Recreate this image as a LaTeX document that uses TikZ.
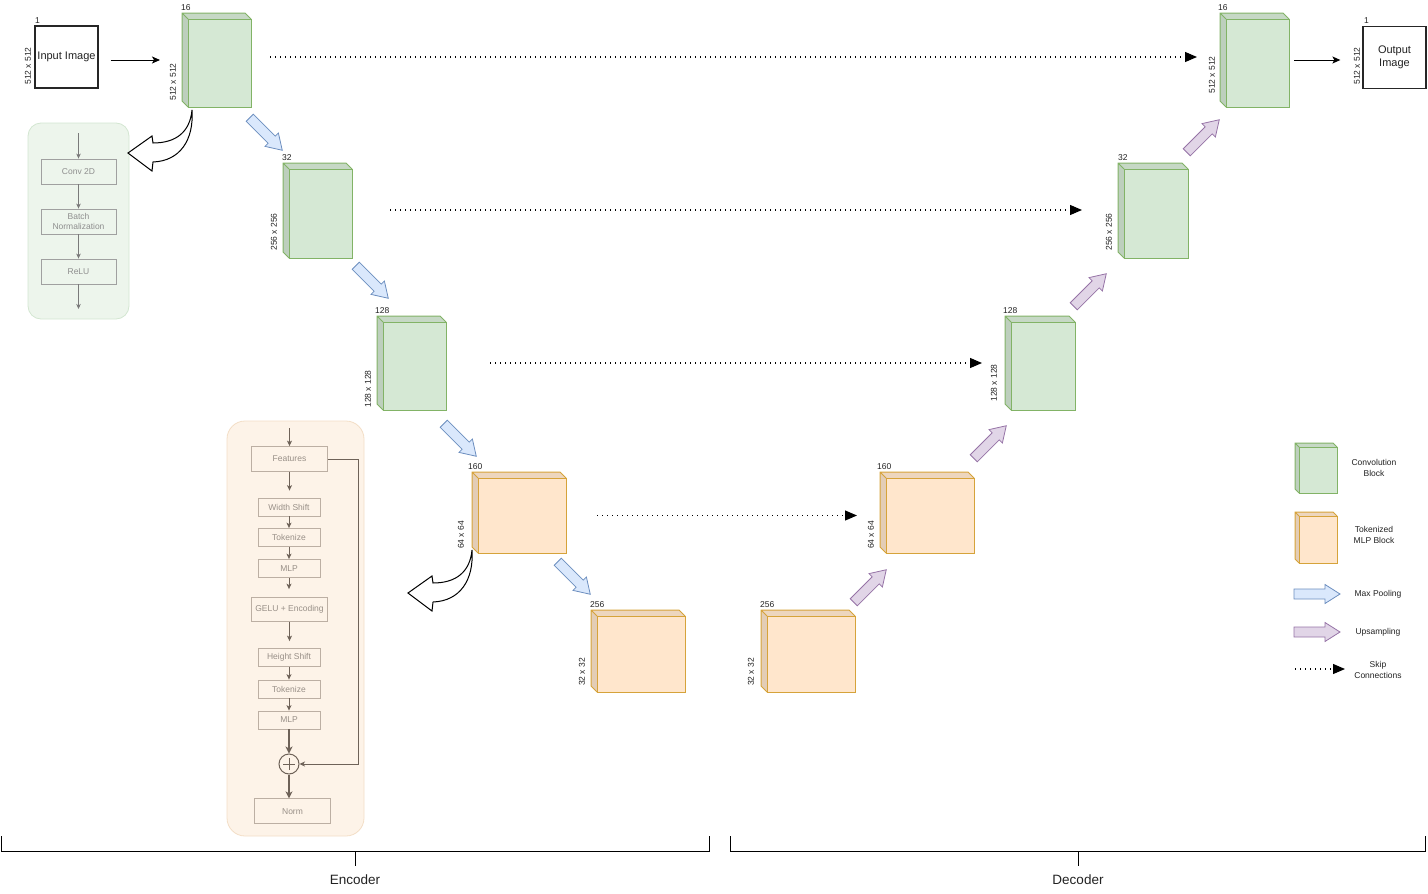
\documentclass[tikz,border=0pt]{standalone}
\usepackage{fontspec}
\setmainfont{Liberation Sans}
\usetikzlibrary{arrows.meta,calc}
\definecolor{gfill}{HTML}{D5E8D4}
\definecolor{gline}{HTML}{82B366}
\definecolor{ofill}{HTML}{FFE6CC}
\definecolor{oline}{HTML}{D6A33A}
\definecolor{bfill}{HTML}{DAE8FC}
\definecolor{bline}{HTML}{6C8EBF}
\definecolor{pfill}{HTML}{E1D5E7}
\definecolor{pline}{HTML}{9673A6}
\definecolor{gpanel}{HTML}{EDF5EC}
\definecolor{gpanelline}{HTML}{D3E6D1}
\definecolor{opanel}{HTML}{FDF3E8}
\definecolor{opanelline}{HTML}{F3DEC6}
\definecolor{inbox}{HTML}{A0A0A0}
\definecolor{intext}{HTML}{8E8E8E}
\definecolor{inarrow}{HTML}{7A7A7A}
\definecolor{mbox}{HTML}{BCAFA3}
\definecolor{mtext}{HTML}{988F87}
\definecolor{marrow}{HTML}{6E6258}
\definecolor{txt}{HTML}{222222}

\newcommand{\cubeblk}[8]{% name,x1,y1,x2,y2,fill,line,d
  \fill[#6!93!black] (#2,#3) -- ({#4-#8},#3) -- (#4,{#3+#8}) -- ({#2+#8},{#3+#8}) -- cycle;
  \fill[#6!89!black] (#2,#3) -- ({#2+#8},{#3+#8}) -- ({#2+#8},#5) -- (#2,{#5-#8}) -- cycle;
  \draw[#7,line width=1pt,line join=round] ({#2+#8},{#3+#8}) -- (#2,#3) -- ({#4-#8},#3) -- (#4,{#3+#8}) (#2,#3) -- (#2,{#5-#8}) -- ({#2+#8},#5);
  \node[draw=#7,fill=#6,line width=1pt,inner sep=0,outer sep=0,minimum width={#4-#2-#8},minimum height={#5-#3-#8}] (#1) at ({(#2+#8+#4)/2},{(#3+#8+#5)/2}) {};
}
\newcommand{\hollowarrow}[2]{%
  \begin{scope}[shift={(#1,#2)}]
    \draw[line width=1pt,fill=white,line join=miter]
      (192,110) .. controls (190,132) and (176,143) .. (153,143) -- (152,136) -- (128,153)
      -- (152,171) -- (153,162) .. controls (180,161) and (194,140) .. (192,110) -- cycle;
  \end{scope}}
% block arrow: name, cx, cy, angle (canvas, ccw), style
\newcommand{\blockarrow}[5]{%
  \coordinate (#1) at (#2,#3);
  \begin{scope}[shift={(#2,#3)}, rotate=#4]
    \draw[#5, line width=0.8pt, line join=miter]
      (-23,-5) -- (8,-5) -- (8,-9.5) -- (23,0) -- (8,9.5) -- (8,5) -- (-23,5) -- cycle;
  \end{scope}}

\tikzset{
  lbl/.style={font=\fontsize{8.5}{10}\selectfont, text=txt, inner sep=0},
  big/.style={font=\fontsize{11}{13}\selectfont, text=txt, align=center},
  imgbox/.style={draw=black!85, line width=1.3pt, minimum width=63pt, minimum height=62pt, inner sep=0, big},
  flow/.style={-{Stealth[length=8pt,width=7pt,inset=2pt]}, line width=1pt, black},
  skip/.style={line width=1.1pt, dash pattern=on 1.1pt off 3.9pt, -{Triangle[length=12pt,width=10pt]}, black},
  pool/.style={draw=bline, fill=bfill},
  upsm/.style={draw=pline, fill=pfill},
  gbox/.style={draw=inbox, line width=0.8pt, text=intext, font=\fontsize{8.5}{10.5}\selectfont, align=center,
     minimum width=75pt, minimum height=25pt, inner sep=0},
  garr/.style={draw=inarrow, line width=0.8pt, -{Stealth[length=5pt,width=4.5pt,inset=1.5pt]}},
  mbx/.style={draw=mbox, line width=0.8pt, text=mtext, font=\fontsize{8.5}{10.5}\selectfont, align=center, inner sep=0},
  marr/.style={draw=marrow, line width=1pt, -{Stealth[length=5.5pt,width=5pt,inset=1.5pt]}},
  marrthick/.style={draw=marrow, line width=1.6pt, -{Stealth[length=7pt,width=7pt,inset=2pt]}},
  legtxt/.style={font=\fontsize{8.5}{10.5}\selectfont, text=txt, align=center},
  brk/.style={line width=1pt, black},
  brtxt/.style={font=\fontsize{13.5}{16}\selectfont, text=txt},
}

\begin{document}
\begin{tikzpicture}[x=1pt,y=-1pt]
\useasboundingbox (0,0) rectangle (1428,894);

% ---------- side panels ----------
\node[draw=gpanelline, fill=gpanel, line width=0.8pt, rounded corners=13pt, minimum width=101pt, minimum height=196pt, inner sep=0] (cpanel) at (78.5,221) {};
\node[draw=opanelline, fill=opanel, line width=0.8pt, rounded corners=18pt, minimum width=137pt, minimum height=415pt, inner sep=0] (mpanel) at (295.5,628.5) {};

% ---------- input / output ----------
\node[imgbox] (inp) at (66.5,57) {Input Image};
\node[lbl, anchor=south west] at (35,24) {1};
\node[lbl, rotate=90] at (28,66) {512 x 512};

\node[imgbox] (outp) at (1394.5,57.5) {Output\\Image};
\node[lbl, anchor=south west] at (1364,24) {1};
\node[lbl, rotate=90] at (1357,66) {512 x 512};

% ---------- encoder blocks ----------
\cubeblk{b1}{182}{13}{251}{107}{gfill}{gline}{6}
\node[lbl, anchor=south west] at (181,11) {16};
\node[lbl, rotate=90] at (173,82) {512 x 512};

\cubeblk{b2}{283}{163}{352}{258}{gfill}{gline}{6}
\node[lbl, anchor=south west] at (282,161) {32};
\node[lbl, rotate=90] at (274,232) {256 x 256};

\cubeblk{b3}{377}{316}{446}{410}{gfill}{gline}{6}
\node[lbl, anchor=south west] at (375,314) {128};
\node[lbl, rotate=90] at (368,389) {128 x 128};

\cubeblk{b4}{472}{472}{566}{553}{ofill}{oline}{6}
\node[lbl, anchor=south west] at (468,470) {160};
\node[lbl, rotate=90] at (461,535) {64 x 64};

\cubeblk{b5}{591}{610}{685}{692}{ofill}{oline}{6}
\node[lbl, anchor=south west] at (590,608) {256};
\node[lbl, rotate=90] at (582,672) {32 x 32};

% ---------- decoder blocks ----------
\cubeblk{b6}{761}{610}{855}{692}{ofill}{oline}{6}
\node[lbl, anchor=south west] at (760,608) {256};
\node[lbl, rotate=90] at (751,672) {32 x 32};

\cubeblk{b7}{880}{472}{974}{553}{ofill}{oline}{6}
\node[lbl, anchor=south west] at (877,470) {160};
\node[lbl, rotate=90] at (871,535) {64 x 64};

\cubeblk{b8}{1005}{316}{1075}{410}{gfill}{gline}{6}
\node[lbl, anchor=south west] at (1003,314) {128};
\node[lbl, rotate=90] at (994,383) {128 x 128};

\cubeblk{b9}{1118}{163}{1188}{258}{gfill}{gline}{6}
\node[lbl, anchor=south west] at (1118,161) {32};
\node[lbl, rotate=90] at (1109,232) {256 x 256};

\cubeblk{b10}{1220}{13}{1289}{107}{gfill}{gline}{6}
\node[lbl, anchor=south west] at (1218,11) {16};
\node[lbl, rotate=90] at (1212,75) {512 x 512};

% ---------- main flow ----------
\draw[flow] ([xshift=12pt,yshift=-3pt]inp.east) -- ([xshift=-28pt,yshift=3pt]b1.west);
\draw[flow] ([xshift=5pt,yshift=3pt]b10.east) -- ([xshift=-22pt,yshift=-2.5pt]outp.west);

% ---------- skip connections ----------
\draw[skip] ([xshift=19pt,yshift=6pt]b1.east) -- ([xshift=-29pt,yshift=6pt]b10.west);
\draw[skip] ([xshift=38pt,yshift=3.5pt]b2.east) -- ([xshift=-42pt,yshift=3.5pt]b9.west);
\draw[skip] ([xshift=44pt,yshift=3pt]b3.east) -- ([xshift=-29pt,yshift=3pt]b8.west);
\draw[skip] ([xshift=31pt]b4.east) -- ([xshift=-29pt]b7.west);

% ---------- pooling / upsampling ----------
\blockarrow{p1}{266}{134}{-45}{pool}
\blockarrow{p2}{372}{282}{-45}{pool}
\blockarrow{p3}{460}{440}{-45}{pool}
\blockarrow{p4}{574}{578}{-45}{pool}
\blockarrow{u1}{870}{586}{45}{upsm}
\blockarrow{u2}{990}{442}{45}{upsm}
\blockarrow{u3}{1090}{290}{45}{upsm}
\blockarrow{u4}{1203}{136}{45}{upsm}

% ---------- conv block detail ----------
\node[gbox] (conv) at (78.5,171.5) {Conv 2D};
\node[gbox] (bn) at (78.5,221.5) {Batch\\Normalization};
\node[gbox] (relu) at (78.5,271.5) {ReLU};
\coordinate (cin) at (78.5,133);
\coordinate (cout) at (78.5,309);
\draw[garr] (cin) -- (conv.north);
\draw[garr] (conv.south) -- (bn.north);
\draw[garr] (bn.south) -- (relu.north);
\draw[garr] (relu.south) -- (cout);
\hollowarrow{0}{0}

% ---------- tokenized MLP detail ----------
\node[mbx, minimum width=76pt, minimum height=25pt] (feat) at (289.5,459) {Features};
\node[mbx, minimum width=62pt, minimum height=18pt] (ws) at (289,507) {Width Shift};
\node[mbx, minimum width=62pt, minimum height=18pt] (tk1) at (289,537.5) {Tokenize};
\node[mbx, minimum width=62pt, minimum height=18pt] (ml1) at (289,568.5) {MLP};
\node[mbx, minimum width=76pt, minimum height=24pt] (gelu) at (289.5,609.5) {GELU + Encoding};
\node[mbx, minimum width=62pt, minimum height=18pt] (hs) at (289,657.5) {Height Shift};
\node[mbx, minimum width=62pt, minimum height=18pt] (tk2) at (289,689) {Tokenize};
\node[mbx, minimum width=62pt, minimum height=18pt] (ml2) at (289,720) {MLP};
\node[draw=marrow, line width=1pt, circle, minimum size=20pt, inner sep=0] (plus) at (289,764) {};
\draw[marrow, line width=1pt] ([xshift=-6pt]plus.center) -- ([xshift=6pt]plus.center) ([yshift=-6pt]plus.center) -- ([yshift=6pt]plus.center);
\node[mbx, minimum width=76pt, minimum height=25pt] (norm) at (292.5,811.3) {Norm};
\coordinate (min) at (289.5,428);
\draw[marr] (min) -- (feat.north);
\draw[marr] (feat.south) -- ([xshift=0.5pt,yshift=7pt]ws.north);
\draw[marr] (ws.south) -- (tk1.north);
\draw[marr] (tk1.south) -- (ml1.north);
\draw[marr] (ml1.south) -- ([xshift=-0.5pt,yshift=8pt]gelu.north);
\draw[marr] (gelu.south) -- ([xshift=0.5pt,yshift=7pt]hs.north);
\draw[marr] (hs.south) -- (tk2.north);
\draw[marr] (tk2.south) -- (ml2.north);
\draw[marrthick] (ml2.south) -- (plus.north);
\draw[marrthick] (plus.south) -- (plus.south |- norm.north);
\draw[marr] (feat.east) -- ++(31,0) |- (plus.east);
\hollowarrow{280}{440}

% ---------- legend ----------
\cubeblk{lg}{1295}{443}{1337}{493}{gfill}{gline}{4}
\node[legtxt] (lgt) at (1374,468) {Convolution\\Block};
\cubeblk{lo}{1295}{512}{1337}{563}{ofill}{oline}{4}
\node[legtxt] (lot) at (1374,535) {Tokenized\\MLP Block};
\blockarrow{lp}{1317}{594}{0}{pool}
\node[legtxt] (lpt) at (1378,594) {Max Pooling};
\blockarrow{lu}{1317}{632}{0}{upsm}
\node[legtxt] (lut) at (1378,632) {Upsampling};
\coordinate (ls1) at (1295,669);
\coordinate (ls2) at (1345,669);
\draw[skip] (ls1) -- (ls2);
\node[legtxt] (lst) at (1378,670) {Skip\\Connections};

% ---------- brackets ----------
\coordinate (e1) at (1,836); \coordinate (e2) at (709,836);
\coordinate (em) at (355,851);
\draw[brk] (e1) -- (1,851) -- (709,851) -- (e2);
\draw[brk] (em) -- ++(0,15);
\node[brtxt] (enc) at (355,880) {Encoder};
\coordinate (d1) at (730,836); \coordinate (d2) at (1425,836);
\coordinate (dm) at (1078,851);
\draw[brk] (d1) -- (730,851) -- (1425,851) -- (d2);
\draw[brk] (dm) -- ++(0,15);
\node[brtxt] (dec) at (1078,880) {Decoder};
\end{tikzpicture}
\end{document}
